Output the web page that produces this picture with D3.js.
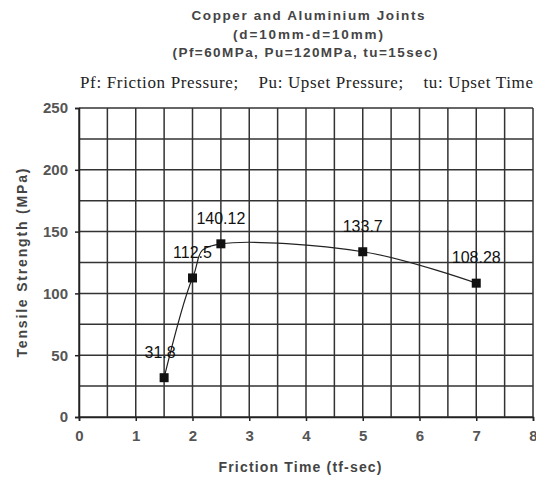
<!DOCTYPE html>
<html><head><meta charset="utf-8">
<script src="https://cdn.jsdelivr.net/npm/d3@7"></script>
<style>body{margin:0;background:#fff}svg{display:block}</style>
</head><body>
<script>
const frictionTime = [1.5, 2, 2.5, 5, 7];
const tensileStrength = [31.8, 112.5, 140.12, 133.7, 108.28];
const pointLabels = ["31.8", "112.5", "140.12", "133.7", "108.28"];
const xTickValues = [0, 1, 2, 3, 4, 5, 6, 7, 8];
const yTickValues = [0, 50, 100, 150, 200, 250];
const xGridValues = d3.range(0, 8.01, 0.5);
const yGridValues = d3.range(0, 250.1, 25);
const titleLines = ["Copper and Aluminium Joints", "(d=10mm-d=10mm)", "(Pf=60MPa, Pu=120MPa, tu=15sec)"];
const noteText = "Pf: Friction Pressure;    Pu: Upset Pressure;    tu: Upset Time";

const W = 536, H = 477;
const sans = "Liberation Sans, Arial, sans-serif";
const svg = d3.select("body").append("svg").attr("width", W).attr("height", H);
const x = d3.scaleLinear().domain([0, 8]).range([79, 533]);
const y = d3.scaleLinear().domain([0, 250]).range([417, 108]);

const gridColor = "#333";
svg.append("g").selectAll("line").data(xGridValues).join("line")
  .attr("x1", d => x(d)).attr("x2", d => x(d)).attr("y1", y(0)).attr("y2", y(250))
  .attr("stroke", gridColor).attr("stroke-width", 1.5);
svg.append("g").selectAll("line").data(yGridValues).join("line")
  .attr("x1", x(0)).attr("x2", x(8)).attr("y1", d => y(d)).attr("y2", d => y(d))
  .attr("stroke", gridColor).attr("stroke-width", 1.5);

const xAxis = svg.append("g").attr("transform", `translate(0,${y(0)})`)
  .call(d3.axisBottom(x).tickValues(xTickValues).tickSize(4).tickPadding(9).tickFormat(d3.format("d")));
const yAxis = svg.append("g").attr("transform", `translate(${x(0)},0)`)
  .call(d3.axisLeft(y).tickValues(yTickValues).tickSize(4).tickPadding(7).tickFormat(d3.format("d")));
[xAxis, yAxis].forEach(a => {
  a.select(".domain").attr("stroke", "#222").attr("stroke-width", 1.5);
  a.selectAll(".tick line").attr("stroke", "#222").attr("stroke-width", 1.5);
  a.selectAll("text").attr("font-family", sans).attr("font-weight", "bold")
    .attr("font-size", 15).attr("fill", "#555");
});

const pts = frictionTime.map((t, i) => [x(t), y(tensileStrength[i])]);
svg.append("path").attr("d", d3.line().curve(d3.curveCardinal.tension(0))(pts))
  .attr("fill", "none").attr("stroke", "#222").attr("stroke-width", 1.2);

svg.append("g").selectAll("rect").data(pts).join("rect")
  .attr("x", d => d[0] - 4.5).attr("y", d => d[1] - 4.5).attr("width", 9).attr("height", 9)
  .attr("fill", "#111");

svg.append("g").selectAll("text").data(pts).join("text")
  .attr("x", (d, i) => d[0] - (i === 0 ? 4 : 0)).attr("y", d => d[1] - 20)
  .attr("text-anchor", "middle").attr("font-family", sans)
  .attr("font-size", 16).attr("fill", "#111")
  .text((d, i) => pointLabels[i]);

const titleX = [308, 308, 305], titleY = [20, 38.5, 57], titleLen = [233, 150, 265];
svg.append("g").selectAll("text").data(titleLines).join("text")
  .attr("x", (d, i) => titleX[i]).attr("y", (d, i) => titleY[i])
  .attr("text-anchor", "middle").attr("font-family", sans)
  .attr("font-size", 13.5).attr("font-weight", "bold").attr("fill", "#444")
  .attr("textLength", (d, i) => titleLen[i]).attr("lengthAdjust", "spacing")
  .text(d => d);
svg.append("text").attr("x", 80).attr("y", 88)
  .attr("font-family", "Liberation Serif, Times New Roman, serif").attr("font-size", 17)
  .attr("fill", "#222").attr("textLength", 453).attr("lengthAdjust", "spacing")
  .style("white-space", "pre").text(noteText);

svg.append("text").attr("x", 300).attr("y", 472).attr("text-anchor", "middle")
  .attr("font-family", sans).attr("font-size", 14)
  .attr("font-weight", "bold").attr("fill", "#444")
  .attr("textLength", 163).attr("lengthAdjust", "spacing")
  .text("Friction Time (tf-sec)");
svg.append("text").attr("transform", "translate(27,263) rotate(-90)").attr("text-anchor", "middle")
  .attr("font-family", sans).attr("font-size", 14)
  .attr("font-weight", "bold").attr("fill", "#444")
  .attr("textLength", 189).attr("lengthAdjust", "spacing")
  .text("Tensile Strength (MPa)");
</script>
</body></html>
